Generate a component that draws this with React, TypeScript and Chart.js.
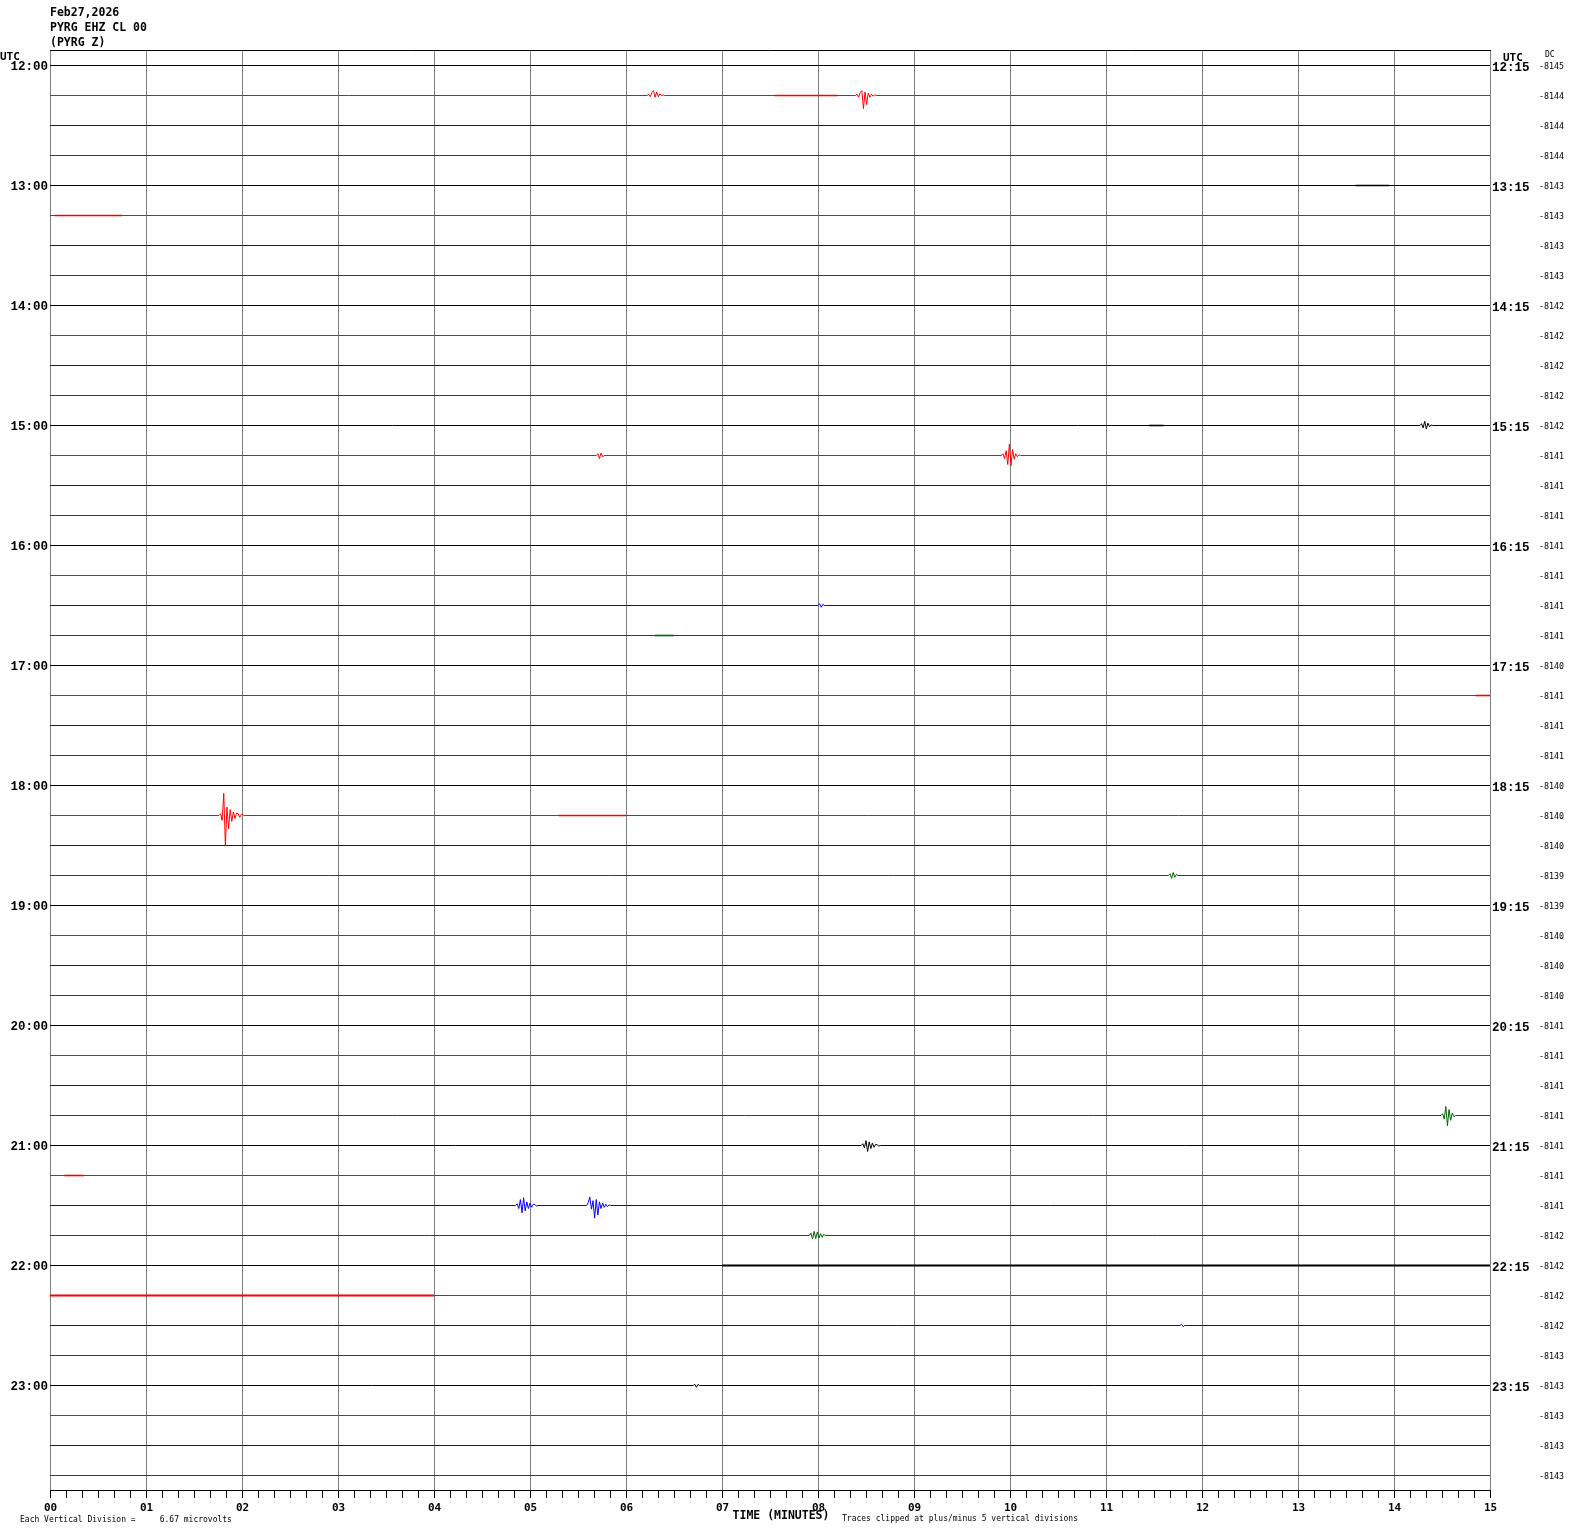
import React, { useEffect, useRef } from 'react';
import { Chart, registerables } from 'chart.js';

Chart.register(...registerables);

// ---------------- DATA ----------------
const HEADER_LINES = ['Feb27,2026', 'PYRG EHZ CL 00', '(PYRG Z)'];
const HOUR_LABELS_LEFT = ['12:00', '13:00', '14:00', '15:00', '16:00', '17:00', '18:00', '19:00', '20:00', '21:00', '22:00', '23:00'];
const HOUR_LABELS_RIGHT = ['12:15', '13:15', '14:15', '15:15', '16:15', '17:15', '18:15', '19:15', '20:15', '21:15', '22:15', '23:15'];
const MINUTE_LABELS = ['00', '01', '02', '03', '04', '05', '06', '07', '08', '09', '10', '11', '12', '13', '14', '15'];
const TRACE_COLORS = ['#000000', '#ff0000', '#0000ff', '#006400'];
const DC_VALUES = [
  -8145, -8144, -8144, -8144,
  -8143, -8143, -8143, -8143,
  -8142, -8142, -8142, -8142,
  -8142, -8141, -8141, -8141,
  -8141, -8141, -8141, -8141,
  -8140, -8141, -8141, -8141,
  -8140, -8140, -8140, -8139,
  -8139, -8140, -8140, -8140,
  -8141, -8141, -8141, -8141,
  -8141, -8141, -8141, -8142,
  -8142, -8142, -8142, -8143,
  -8143, -8143, -8143, -8143,
];
const TRACE_COUNT = 48;
const MINUTES_PER_TRACE = 15;
const DIVISIONS_PER_TRACE = 5;
const SAMPLE_MINUTES = 1 / 60; // 1 s samples

// seismic events: trace row, start minute, amplitudes in vertical divisions (positive up)
const EVENT_ROWS = [1, 1, 12, 13, 13, 18, 25, 27, 35, 36, 38, 38, 39, 44, 42];
const EVENT_STARTS = [6.22, 8.39, 14.27, 5.69, 9.91, 8.0, 1.76, 11.65, 14.49, 8.45, 4.85, 5.59, 7.91, 6.7, 11.77];
const EVENT_VALUES = [
  [0.2, -0.2, 0.5, 0.8, -0.3, 0.6, -0.2, 0.3, 0, 0.1],
  [0.2, -0.3, 0.5, 0.8, -2.2, 0.6, -1.5, 0.4, -0.3, 0.2, -0.1, 0.1],
  [0.3, -0.4, 0.7, -0.6, 0.4, -0.2, 0.1],
  [0.3, -0.5, 0.4, -0.2],
  [0.3, -0.5, 0.8, -1.5, 1.9, -1.7, 1.0, -0.6, 0.3, -0.2, 0.1],
  [0.3, -0.3, 0.2],
  [0.3, -0.8, 3.7, -5.0, 1.4, -2.2, 1.0, -1.0, 0.6, -0.5, 0.4, 0.3, -0.3, 0.2, 0.1],
  [0.3, -0.5, 0.5, -0.3, 0.2],
  [0.3, -0.6, 1.5, -1.7, 1.0, -0.8, 0.4, -0.2],
  [0.3, -0.4, 0.8, -1.0, 0.6, -0.5, 0.4, -0.3, 0.2, 0.1, -0.1],
  [0.3, -0.5, 1.0, -1.2, 1.3, -0.9, 0.6, -0.5, 0.4, -0.3, 0.2, 0.2, -0.1],
  [0.5, 1.4, -0.6, 0.8, -2.1, 1.0, -1.6, 0.6, -0.5, 0.4, -0.3, 0.2, -0.2, 0.1],
  [0.4, -0.6, 0.7, -0.5, 0.6, -0.4, 0.3, -0.3, 0.2],
  [0.2, -0.3, 0.2],
  [0.2, -0.2],
];

// stretches of raised background noise: row, from minute, to minute
const NOISE_ROWS = [40, 41, 1, 4, 25, 19, 37, 5, 12, 21];
const NOISE_FROM = [7.0, 0.0, 7.55, 13.6, 5.3, 6.3, 0.15, 0.05, 11.45, 14.85];
const NOISE_TO = [15.0, 4.0, 8.2, 13.95, 6.0, 6.5, 0.35, 0.75, 11.6, 15.0];

// ---------------- COMPONENT ----------------
export default function App() {
  const canvasRef = useRef<HTMLCanvasElement | null>(null);

  useEffect(() => {
    const canvas = canvasRef.current;
    if (!canvas) return;

    const datasets: any[] = [];
    for (let r = 0; r < TRACE_COUNT; r++) {
      const pts: { x: number; y: number }[] = [{ x: 0, y: r }];
      const idx = EVENT_ROWS.map((row, i) => i).filter((i) => EVENT_ROWS[i] === r).sort((a, b) => EVENT_STARTS[a] - EVENT_STARTS[b]);
      idx.forEach((i) => {
        const s = EVENT_STARTS[i];
        pts.push({ x: s, y: r });
        EVENT_VALUES[i].forEach((v, k) => pts.push({ x: s + (k + 1) * SAMPLE_MINUTES, y: r - v / DIVISIONS_PER_TRACE }));
        pts.push({ x: s + (EVENT_VALUES[i].length + 1) * SAMPLE_MINUTES, y: r });
      });
      pts.push({ x: MINUTES_PER_TRACE, y: r });
      datasets.push({
        data: pts,
        borderColor: TRACE_COLORS[r % 4],
        borderWidth: 1,
        pointRadius: 0,
        tension: 0,
        fill: false,
      });
    }
    NOISE_ROWS.forEach((r, i) => {
      datasets.push({
        data: [{ x: NOISE_FROM[i], y: r }, { x: NOISE_TO[i], y: r }],
        borderColor: TRACE_COLORS[r % 4],
        borderWidth: r >= 40 ? 2 : 1.6,
        pointRadius: 0,
        fill: false,
      });
    });

    const helicorderPlugin = {
      id: 'helicorder',
      beforeDatasetsDraw(chart: any) {
        const { ctx, chartArea, scales } = chart;
        const xs = scales.x;
        ctx.save();
        ctx.lineWidth = 1;
        ctx.strokeStyle = '#808080';
        for (let m = 0; m <= MINUTES_PER_TRACE; m++) {
          const x = Math.round(xs.getPixelForValue(m)) + 0.5;
          ctx.beginPath();
          ctx.moveTo(x, chartArea.top);
          ctx.lineTo(x, chartArea.bottom);
          ctx.stroke();
        }
        ctx.strokeStyle = '#000000';
        ctx.beginPath();
        ctx.moveTo(chartArea.left, chartArea.top + 0.5);
        ctx.lineTo(chartArea.right + 1, chartArea.top + 0.5);
        ctx.stroke();
        ctx.restore();
      },
      afterDraw(chart: any) {
        const { ctx, chartArea, scales } = chart;
        const xs = scales.x;
        const ys = scales.y;
        ctx.save();
        // bottom axis
        ctx.strokeStyle = '#000000';
        ctx.lineWidth = 1;
        ctx.beginPath();
        ctx.moveTo(chartArea.left, chartArea.bottom + 0.5);
        ctx.lineTo(chartArea.right + 1, chartArea.bottom + 0.5);
        ctx.stroke();
        for (let i = 0; i <= MINUTES_PER_TRACE * 6; i++) {
          const x = Math.round(xs.getPixelForValue(i / 6)) + 0.5;
          ctx.beginPath();
          ctx.moveTo(x, chartArea.bottom);
          ctx.lineTo(x, chartArea.bottom + 8);
          ctx.stroke();
        }
        ctx.fillStyle = '#000000';
        ctx.textBaseline = 'middle';
        ctx.textAlign = 'center';
        ctx.font = 'bold 11px "DejaVu Sans Mono"';
        MINUTE_LABELS.forEach((lab, m) => {
          ctx.fillText(lab, xs.getPixelForValue(m) + 0.5, chartArea.bottom + 18);
        });
        ctx.font = 'bold 11.5px "DejaVu Sans Mono"';
        ctx.fillText('TIME (MINUTES)', 781, chartArea.bottom + 26);
        ctx.textAlign = 'left';
        ctx.font = '8px "DejaVu Sans Mono"';
        ctx.fillText('Traces clipped at plus/minus 5 vertical divisions', 842, chartArea.bottom + 29);
        ctx.fillText('Each Vertical Division =     6.67 microvolts', 20, chartArea.bottom + 30);

        // header
        ctx.textBaseline = 'alphabetic';
        ctx.font = 'bold 11.5px "DejaVu Sans Mono"';
        HEADER_LINES.forEach((t, i) => ctx.fillText(t, 50, 16 + i * 15));
        ctx.font = 'bold 11px "DejaVu Sans Mono"';
        ctx.fillText('UTC', 0, 60);
        ctx.fillText('UTC', 1503, 61);
        ctx.font = '8px "DejaVu Sans Mono"';
        ctx.fillText('DC', 1545, 57);

        // hour labels
        ctx.textBaseline = 'middle';
        ctx.font = 'bold 12.5px "Liberation Mono"';
        HOUR_LABELS_LEFT.forEach((t, i) => {
          const y = ys.getPixelForValue(i * 4) + 1;
          ctx.textAlign = 'right';
          ctx.fillText(t, 48, y);
          ctx.textAlign = 'left';
          ctx.fillText(HOUR_LABELS_RIGHT[i], 1492, y + 1);
        });
        // DC values
        ctx.font = '8.3px "DejaVu Sans Mono"';
        ctx.textAlign = 'left';
        DC_VALUES.forEach((v, r) => {
          ctx.fillText(String(v), 1539, ys.getPixelForValue(r) + 1.5);
        });
        ctx.restore();
      },
    };

    const chart = new Chart(canvas, {
      type: 'line',
      data: { datasets },
      options: {
        animation: false,
        responsive: false,
        devicePixelRatio: 1,
        events: [],
        parsing: true,
        layout: { padding: { left: 50, top: 50, right: 80, bottom: 44 } },
        plugins: { legend: { display: false }, tooltip: { enabled: false }, title: { display: false } },
        scales: {
          x: { type: 'linear', min: 0, max: MINUTES_PER_TRACE, display: false },
          y: { type: 'linear', min: -0.5 - 1 / 60, max: TRACE_COUNT - 0.5 - 1 / 60, reverse: true, display: false },
        },
        elements: { line: { borderCapStyle: 'butt', borderJoinStyle: 'miter' } },
      } as any,
      plugins: [helicorderPlugin],
    });
    return () => chart.destroy();
  }, []);

  return (
    <div style={{ position: 'absolute', left: 0, top: 0, width: 1570, height: 1534, background: '#ffffff' }}>
      <canvas ref={canvasRef} width={1570} height={1534} style={{ display: 'block', width: 1570, height: 1534 }} />
    </div>
  );
}
